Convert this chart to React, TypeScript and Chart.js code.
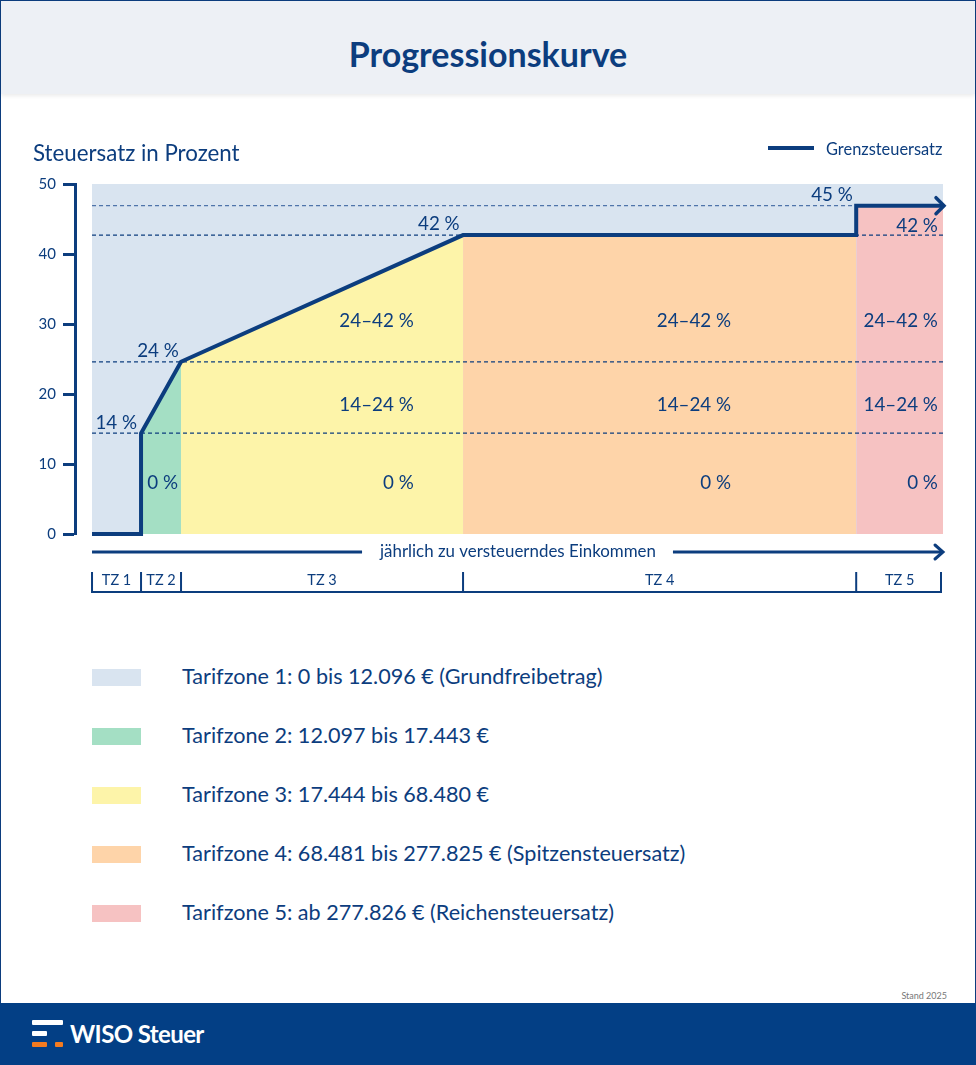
import React, { useEffect, useRef } from "react";
import { Chart, registerables } from "chart.js";

Chart.register(...registerables);

const FONT = "Lato, 'Noto Sans', sans-serif";
const NAVY = "#0c3d7e";
const FOOTER = "#033f85";

// schematic income axis (0–100), zone boundaries as drawn
const zoneBounds = [0, 5.76, 10.46, 43.6, 89.8, 100];
const zoneNames = ["TZ 1", "TZ 2", "TZ 3", "TZ 4", "TZ 5"];
const zoneColors = ["#d9e4f0", "#a4dfc4", "#fdf4a9", "#fed4a9", "#f6c2c2"];

// marginal tax rate curve (Grenzsteuersatz)
const curveX = [0, 5.76, 5.76, 10.46, 43.6, 89.8, 89.8, 100];
const curveY = [0, 0, 14.4, 24.6, 42.7, 42.7, 46.9, 46.9];

// dashed reference levels
const refLevels = [46.9, 42.7, 24.6, 14.4];
const refColors = ["#4f74aa", NAVY, NAVY, NAVY];

// rate annotations
const rateLabels = ["14 %", "24 %", "42 %", "45 %", "42 %"];
const rateLabelX = [5.3, 10.2, 43.2, 89.4, 99.4];
const rateLabelY = [15.9, 26.1, 44.3, 48.4, 44.0];

// band annotations inside the zones
const bandLabels = ["24–42 %", "14–24 %", "0 %"];
const bandLabelY = [30.4, 18.4, 7.3];
const bandZoneX = [10.1, 37.8, 75.1, 99.4];
const bandZoneCount = [1, 3, 3, 3];

const legendLabels = [
  "Tarifzone 1: 0 bis 12.096 € (Grundfreibetrag)",
  "Tarifzone 2: 12.097 bis 17.443 €",
  "Tarifzone 3: 17.444 bis 68.480 €",
  "Tarifzone 4: 68.481 bis 277.825 € (Spitzensteuersatz)",
  "Tarifzone 5: ab 277.826 € (Reichensteuersatz)",
];

const pts = (xs: number[], ys: number[]) => xs.map((x, i) => ({ x, y: ys[i] }));

function zoneFillData(z: number) {
  const a = zoneBounds[z];
  const b = zoneBounds[z + 1];
  const out: { x: number; y: number }[] = [];
  for (let i = 0; i < curveX.length; i++) {
    if (curveX[i] >= a && curveX[i] <= b) out.push({ x: curveX[i], y: curveY[i] });
  }
  while (out.length > 1 && out[0].x === out[1].x) out.shift();
  while (out.length > 1 && out[out.length - 1].x === out[out.length - 2].x) out.pop();
  return out;
}

const annotationPlugin = {
  id: "annotations",
  afterDatasetsDraw(chart: any) {
    const { ctx, scales } = chart;
    const x = scales.x;
    const y = scales.y;
    ctx.save();
    ctx.fillStyle = NAVY;
    ctx.textAlign = "right";
    ctx.textBaseline = "middle";
    ctx.font = `18.8px ${FONT}`;
    rateLabels.forEach((t, i) => {
      ctx.fillText(t, x.getPixelForValue(rateLabelX[i]), y.getPixelForValue(rateLabelY[i]));
    });
    bandZoneX.forEach((zx, zi) => {
      const n = bandZoneCount[zi];
      for (let k = 0; k < n; k++) {
        const li = bandLabels.length - n + k;
        ctx.fillText(bandLabels[li], x.getPixelForValue(zx), y.getPixelForValue(bandLabelY[li]));
      }
    });
    const last = curveX.length - 1;
    const tx = x.getPixelForValue(curveX[last]) + 1;
    const ty = y.getPixelForValue(curveY[last]);
    ctx.strokeStyle = NAVY;
    ctx.lineWidth = 3.5;
    ctx.lineCap = "round";
    ctx.beginPath();
    ctx.moveTo(tx - 8, ty - 8);
    ctx.lineTo(tx, ty);
    ctx.lineTo(tx - 8, ty + 8);
    ctx.stroke();
    ctx.restore();
  },
  afterDraw(chart: any) {
    const { ctx, scales, chartArea } = chart;
    const x = scales.x;
    const x0 = x.getPixelForValue(zoneBounds[0]);
    const x1 = x.getPixelForValue(zoneBounds[zoneBounds.length - 1]);
    const ay = chartArea.bottom + 18;
    ctx.save();
    ctx.strokeStyle = NAVY;
    ctx.fillStyle = NAVY;
    const text = "jährlich zu versteuerndes Einkommen";
    ctx.font = `16.9px ${FONT}`;
    ctx.textAlign = "center";
    ctx.textBaseline = "middle";
    const cx = 518;
    const tw = ctx.measureText(text).width;
    ctx.fillText(text, cx, ay);
    ctx.lineWidth = 3;
    ctx.lineCap = "butt";
    ctx.beginPath();
    ctx.moveTo(x0, ay);
    ctx.lineTo(cx - tw / 2 - 18, ay);
    ctx.moveTo(cx + tw / 2 + 17, ay);
    ctx.lineTo(x1 - 2, ay);
    ctx.stroke();
    ctx.lineCap = "round";
    ctx.beginPath();
    ctx.moveTo(x1 - 8, ay - 7);
    ctx.lineTo(x1, ay);
    ctx.lineTo(x1 - 8, ay + 7);
    ctx.stroke();
    const by0 = chartArea.bottom + 38;
    const by1 = chartArea.bottom + 59;
    ctx.lineWidth = 2;
    ctx.lineCap = "butt";
    ctx.beginPath();
    zoneBounds.forEach((zb, i) => {
      let px = x.getPixelForValue(zb);
      if (i === zoneBounds.length - 1) px -= 2;
      ctx.moveTo(px, by0);
      ctx.lineTo(px, by1);
    });
    ctx.moveTo(x0 - 1, by1 - 1);
    ctx.lineTo(x1 - 1, by1 - 1);
    ctx.stroke();
    ctx.font = `14.5px ${FONT}`;
    zoneNames.forEach((n, i) => {
      const a = x.getPixelForValue(zoneBounds[i]);
      const b = x.getPixelForValue(zoneBounds[i + 1]);
      ctx.fillText(n, (a + b) / 2, chartArea.bottom + 46);
    });
    ctx.restore();
  },
};

function ProgressionChart() {
  const ref = useRef<HTMLCanvasElement>(null);
  useEffect(() => {
    if (!ref.current) return;
    const datasets: any[] = [];
    datasets.push({
      label: "Grenzsteuersatz",
      data: pts(curveX, curveY),
      borderColor: NAVY,
      borderWidth: 4,
      pointRadius: 0,
      tension: 0,
      clip: false,
      borderJoinStyle: "miter",
      order: 0,
    });
    refLevels.forEach((v, i) => {
      datasets.push({
        label: "ref" + i,
        data: [
          { x: zoneBounds[0], y: v },
          { x: zoneBounds[zoneBounds.length - 1], y: v },
        ],
        borderColor: refColors[i],
        borderWidth: 1.2,
        borderDash: [4, 3],
        pointRadius: 0,
        order: 1,
      });
    });
    for (let z = 1; z < zoneColors.length; z++) {
      datasets.push({
        label: zoneNames[z],
        data: zoneFillData(z),
        borderColor: "rgba(0,0,0,0)",
        borderWidth: 0,
        backgroundColor: zoneColors[z],
        fill: "origin",
        pointRadius: 0,
        order: 2,
      });
    }
    datasets.push({
      label: zoneNames[0],
      data: [
        { x: zoneBounds[0], y: 50 },
        { x: zoneBounds[zoneBounds.length - 1], y: 50 },
      ],
      borderColor: "rgba(0,0,0,0)",
      borderWidth: 0,
      backgroundColor: zoneColors[0],
      fill: "origin",
      pointRadius: 0,
      order: 3,
    });

    const chart = new Chart(ref.current, {
      type: "line",
      data: { datasets },
      options: {
        animation: false,
        responsive: false,
        maintainAspectRatio: false,
        layout: { padding: { top: 64, bottom: 76, right: 33, left: 0 } },
        plugins: { legend: { display: false }, tooltip: { enabled: false }, title: { display: false } },
        scales: {
          x: { type: "linear", min: -2, max: 100, display: false },
          y: {
            min: 0,
            max: 50,
            ticks: {
              stepSize: 10,
              color: NAVY,
              padding: 7,
              font: { family: FONT, size: 15 },
            },
            grid: {
              drawOnChartArea: false,
              tickLength: 12,
              tickWidth: 3,
              color: NAVY,
            },
            border: { display: true, width: 3, color: NAVY },
            afterFit: (s: any) => {
              s.width = 75;
            },
          },
        },
      },
      plugins: [annotationPlugin],
    });
    return () => chart.destroy();
  }, []);
  return (
    <canvas
      ref={ref}
      width={976}
      height={490}
      style={{ position: "absolute", left: 0, top: 120, width: 976, height: 490 }}
    />
  );
}

export default function App() {
  return (
    <div
      style={{
        position: "absolute",
        left: 0,
        top: 0,
        width: 976,
        height: 1065,
        background: "#fff",
        overflow: "hidden",
        fontFamily: FONT,
        color: NAVY,
      }}
    >
      <div
        style={{
          position: "absolute",
          left: 0,
          top: 0,
          width: 976,
          height: 1004,
          border: `1px solid ${NAVY}`,
          boxSizing: "border-box",
        }}
      />
      <div
        style={{
          position: "absolute",
          left: 1,
          top: 1,
          width: 974,
          height: 93,
          background: "#edf0f5",
          boxShadow: "0 2px 4px rgba(0,0,0,0.08)",
        }}
      >
        <div
          style={{
            position: "absolute",
            left: 0,
            right: 0,
            top: 33,
            textAlign: "center",
            fontWeight: 700,
            fontSize: 34,
            lineHeight: "40px",
            color: NAVY,
          }}
        >
          Progressionskurve
        </div>
      </div>
      <ProgressionChart />
      <div style={{ position: "absolute", left: 33, top: 139, fontSize: 22.3, lineHeight: "28px" }}>
        Steuersatz in Prozent
      </div>
      <div style={{ position: "absolute", left: 768, top: 146, width: 46, height: 4, background: NAVY }} />
      <div style={{ position: "absolute", left: 826, top: 138, fontSize: 16.4, lineHeight: "21px" }}>
        Grenzsteuersatz
      </div>
      {legendLabels.map((t, i) => (
        <div key={i}>
          <div
            style={{
              position: "absolute",
              left: 92,
              top: 669 + i * 59,
              width: 49,
              height: 17,
              background: zoneColors[i],
            }}
          />
          <div
            style={{
              position: "absolute",
              left: 182,
              top: 663 + i * 59,
              fontSize: 21.6,
              lineHeight: "27px",
              whiteSpace: "nowrap",
            }}
          >
            {t}
          </div>
        </div>
      ))}
      <div
        style={{
          position: "absolute",
          right: 29,
          top: 990,
          fontSize: 9,
          lineHeight: "12px",
          color: "#777",
        }}
      >
        Stand 2025
      </div>
      <div style={{ position: "absolute", left: 0, top: 1003, width: 976, height: 62, background: FOOTER }}>
        <div style={{ position: "absolute", left: 32, top: 17, width: 31, height: 5, background: "#fff", borderRadius: 1 }} />
        <div style={{ position: "absolute", left: 32, top: 28, width: 15, height: 5, background: "#fff", borderRadius: 1 }} />
        <div style={{ position: "absolute", left: 32, top: 39, width: 15, height: 5, background: "#f47b20", borderRadius: 1 }} />
        <div style={{ position: "absolute", left: 55, top: 39, width: 8, height: 5, background: "#f47b20", borderRadius: 1 }} />
        <div
          style={{
            position: "absolute",
            left: 70,
            top: 16,
            fontSize: 24,
            lineHeight: "29px",
            fontWeight: 700,
            color: "#fff",
            letterSpacing: -0.6,
          }}
        >
          WISO Steuer
        </div>
      </div>
    </div>
  );
}
